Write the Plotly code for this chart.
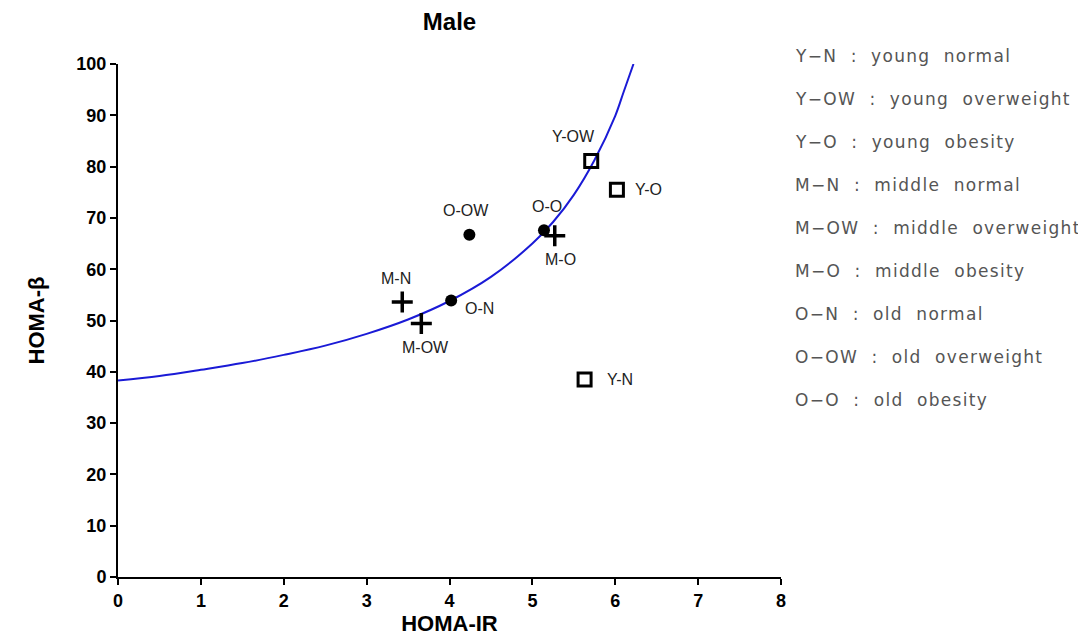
import plotly.graph_objects as go

# Group points (HOMA-IR, HOMA-beta)
sq_names = ["Y-N", "Y-OW", "Y-O"]
sq_x = [5.63, 5.71, 6.02]
sq_y = [38.5, 81.1, 75.5]

cr_names = ["M-N", "M-OW", "M-O"]
cr_x = [3.43, 3.66, 5.27]
cr_y = [53.6, 49.4, 66.5]

ci_names = ["O-N", "O-OW", "O-O"]
ci_x = [4.02, 4.24, 5.14]
ci_y = [53.9, 66.7, 67.6]

# Curve points
curve_x = [0.0, 0.5, 1.0, 1.5, 2.0, 2.5, 3.0, 3.5, 4.0, 4.5, 5.0, 5.25, 5.5, 5.75, 6.0, 6.1, 6.22]
curve_y = [38.3, 39.2, 40.4, 41.7, 43.3, 45.1, 47.4, 50.2, 53.8, 58.5, 65.0, 69.2, 74.5, 81.3, 89.9, 94.5, 100.0]

legend_lines = [
    "Y\u2212N  :  young  normal",
    "Y\u2212OW  :  young  overweight",
    "Y\u2212O  :  young  obesity",
    "M\u2212N  :  middle  normal",
    "M\u2212OW  :  middle  overweight",
    "M\u2212O  :  middle  obesity",
    "O\u2212N  :  old  normal",
    "O\u2212OW  :  old  overweight",
    "O\u2212O  :  old  obesity",
]

x_ticks = [0, 1, 2, 3, 4, 5, 6, 7, 8]
y_ticks = [0, 10, 20, 30, 40, 50, 60, 70, 80, 90, 100]

FONT = "Liberation Sans, Arial, sans-serif"

fig = go.Figure()
fig.add_trace(go.Scatter(x=curve_x, y=curve_y, mode="lines",
                         line=dict(color="#1a1ad6", width=2, shape="spline"),
                         hoverinfo="skip", cliponaxis=False))
fig.add_trace(go.Scatter(x=sq_x, y=sq_y, mode="markers",
                         marker=dict(symbol="square-open", size=13, color="black",
                                     line=dict(width=3, color="black"))))
fig.add_trace(go.Scatter(x=cr_x, y=cr_y, mode="markers",
                         marker=dict(symbol="cross-thin-open", size=15, color="black",
                                     line=dict(width=3.5, color="black"))))
fig.add_trace(go.Scatter(x=ci_x, y=ci_y, mode="markers",
                         marker=dict(symbol="circle", size=12, color="black")))

# point labels: (xshift, yshift, xanchor)
label_pos = {
    "Y-N": (20, 0, "left"), "Y-OW": (-18, 24, "center"), "Y-O": (16, 0, "left"),
    "M-N": (-6, 24, "center"), "M-OW": (4, -24, "center"), "M-O": (6, -24, "center"),
    "O-N": (12, -8, "left"), "O-OW": (-3, 24, "center"), "O-O": (3, 24, "center"),
}
for names, xs, ys in [(sq_names, sq_x, sq_y), (cr_names, cr_x, cr_y), (ci_names, ci_x, ci_y)]:
    for n, xv, yv in zip(names, xs, ys):
        dx, dy, anc = label_pos[n]
        fig.add_annotation(x=xv, y=yv, text=n, showarrow=False, xshift=dx, yshift=dy,
                           xanchor=anc, yanchor="middle",
                           font=dict(family=FONT, size=16, color="#222"))

for i, t in enumerate(legend_lines):
    fig.add_annotation(xref="paper", yref="paper", x=1.0, y=1.0, xshift=12,
                       yshift=-43 * i + 8,
                       text='<span style="letter-spacing:1.3px">' + t + "</span>",
                       showarrow=False, xanchor="left", yanchor="middle",
                       font=dict(family="DejaVu Sans, sans-serif", size=17, color="#555"))

fig.update_layout(
    width=1086, height=641,
    margin=dict(l=110, r=313, t=56, b=72),
    paper_bgcolor="white", plot_bgcolor="white",
    showlegend=False,
    title=dict(text="<b>Male</b>", x=441.5 / 1086, xanchor="center", y=1 - 14 / 641,
               yanchor="middle", font=dict(family=FONT, size=24, color="black")),
)
fig.update_xaxes(range=[0, 8], tickvals=x_ticks, ticktext=[f"<b>{v}</b>" for v in x_ticks],
                 showline=True, linecolor="black", linewidth=2, ticks="outside",
                 ticklen=6, tickwidth=2, tickcolor="black", showgrid=False, zeroline=False,
                 tickfont=dict(family=FONT, size=18, color="black"),
                 title=dict(text="<b>HOMA-IR</b>", font=dict(family=FONT, size=22, color="black"),
                            standoff=4))
fig.update_yaxes(range=[0, 100], tickvals=y_ticks, ticktext=[f"<b>{v}</b>" for v in y_ticks],
                 showline=True, linecolor="black", linewidth=2, ticks="outside",
                 ticklen=6, tickwidth=2, tickcolor="black", showgrid=False, zeroline=False,
                 tickfont=dict(family=FONT, size=18, color="black"),
                 title=dict(text="<b>HOMA-\u03b2</b>", font=dict(family=FONT, size=22, color="black"),
                            standoff=26))

fig.write_html("out.html")
